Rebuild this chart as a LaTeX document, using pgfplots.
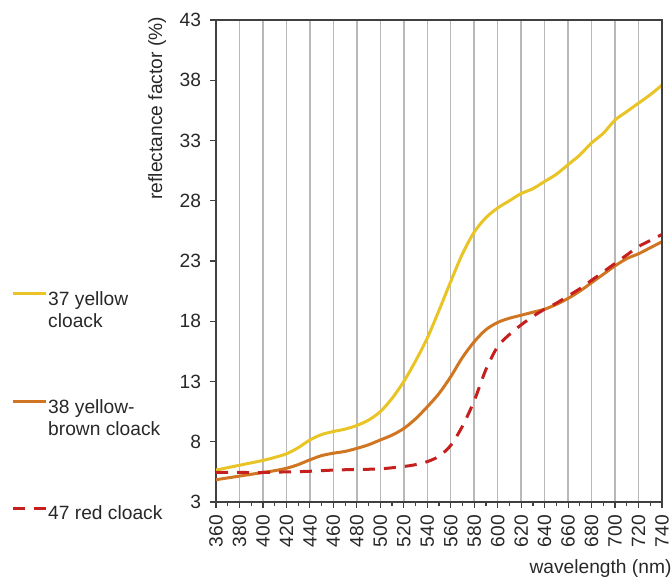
\documentclass[border=0pt]{standalone}
\usepackage{pgfplots}
\pgfplotsset{compat=1.18}
\usepackage{fontspec}
\setmainfont{Liberation Sans}
\definecolor{cyellow}{RGB}{232,196,38}
\definecolor{corange}{RGB}{208,118,34}
\definecolor{cred}{RGB}{198,32,30}
\definecolor{ctext}{RGB}{40,40,40}
\begin{document}
\begin{tikzpicture}
\useasboundingbox (-108pt,-37.5pt) rectangle (228pt,251pt);
\begin{axis}[
  at={(0,0)}, anchor=south west,
  scale only axis, width=223pt, height=241pt,
  xmin=360, xmax=740, ymin=3, ymax=43,
  xtick={360,380,...,740}, minor x tick num=1,
  ytick={3,8,...,43},
  xtick pos=bottom, ytick pos=left,
  tick align=outside, major tick length=3pt, minor tick length=2pt,
  xmajorgrids, grid style={black!28, line width=0.75pt},
  axis line style={black!75, line width=0.7pt},
  tick style={black!75, line width=0.6pt},
  /pgf/number format/assume math mode=true,
  /pgf/number format/1000 sep={},
  font=\fontsize{9.6}{11}\selectfont,
  ticklabel style={text=ctext},
  y tick label style={xshift=-1pt},
  x tick label style={rotate=90, anchor=east},
  xlabel={wavelength (nm)},
  xlabel style={at={(axis description cs:1.037,-0.137)}, anchor=east, text=ctext},
  ylabel={reflectance factor (\%)},
  ylabel style={at={(axis description cs:-0.132,0.817)}, anchor=center, rotate=0, text=ctext},
  legend style={draw=none, fill=none, inner sep=0pt, at={(axis description cs:-0.46,0.449)}, anchor=north west,
     font=\fontsize{9.6}{11}\selectfont, text=ctext, row sep=40.75pt, column sep=-1.5pt},
  legend cell align=left,
  legend image code/.code={\draw[#1] (0pt,2.7pt) -- (16.5pt,2.7pt);},
  extra description/.code={\draw[black!75, line width=0.7pt] (axis description cs:0,1) -- (axis description cs:1,1) -- (axis description cs:1,0);},
]
\addplot[cyellow, line width=1.5pt, smooth] coordinates {
(360,5.65)(370,5.85)(380,6.05)(390,6.25)(400,6.45)(410,6.7)(420,7.0)(430,7.5)(440,8.15)(450,8.6)
(460,8.85)(470,9.05)(480,9.35)(490,9.8)(500,10.5)(510,11.6)(520,13.0)(530,14.7)(540,16.6)(550,18.9)
(560,21.3)(570,23.6)(580,25.4)(590,26.6)(600,27.4)(610,28.0)(620,28.6)(630,29.0)(640,29.6)(650,30.2)
(660,31.0)(670,31.8)(680,32.8)(690,33.6)(700,34.7)(710,35.4)(720,36.1)(730,36.8)(740,37.6)};
\addlegendentry{\begin{tabular}[t]{@{}l@{}}37 yellow\\cloack\end{tabular}}
\addplot[corange, line width=1.5pt, smooth] coordinates {
(360,4.85)(370,5.0)(380,5.15)(390,5.3)(400,5.45)(410,5.6)(420,5.8)(430,6.1)(440,6.5)(450,6.85)
(460,7.05)(470,7.2)(480,7.45)(490,7.75)(500,8.15)(510,8.55)(520,9.1)(530,9.9)(540,10.9)(550,12.0)
(560,13.4)(570,15.0)(580,16.3)(590,17.3)(600,17.9)(610,18.25)(620,18.5)(630,18.75)(640,19.0)(650,19.4)
(660,19.9)(670,20.5)(680,21.2)(690,21.9)(700,22.6)(710,23.2)(720,23.6)(730,24.1)(740,24.6)};
\addlegendentry{\begin{tabular}[t]{@{}l@{}}38 yellow-\\brown cloack\end{tabular}}
\addplot[cred, line width=1.5pt, smooth, dash pattern=on 6pt off 4.5pt] coordinates {
(360,5.45)(380,5.45)(400,5.45)(420,5.5)(440,5.55)(460,5.65)(480,5.7)(500,5.75)(520,5.95)(530,6.1)
(540,6.35)(550,6.8)(560,7.7)(570,9.3)(580,11.4)(590,14.0)(600,15.9)(610,16.9)(620,17.7)(630,18.4)
(640,19.0)(650,19.5)(660,20.1)(670,20.7)(680,21.4)(690,22.1)(700,22.8)(710,23.5)(720,24.2)(730,24.7)(740,25.2)};
\addlegendentry{47 red cloack}
\end{axis}
\end{tikzpicture}
\end{document}
